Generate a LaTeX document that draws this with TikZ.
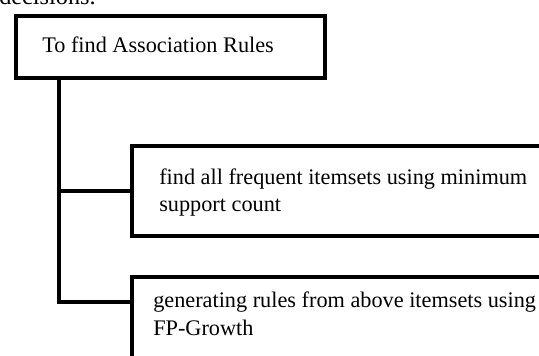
\documentclass[tikz,border=0pt]{standalone}
\usepackage{fontspec}
\setmainfont{Liberation Serif}
\usetikzlibrary{calc}
\begin{document}
\begin{tikzpicture}[x=0.75pt,y=-0.75pt,
  box/.style={draw=black, line width=3pt, fill=white, inner sep=0pt,
    anchor=north west, line join=miter},
  conn/.style={draw=black, line width=3.3pt, line join=miter},
  lbl/.style={inner sep=0pt, anchor=base west, font=\fontsize{16.7}{20}\selectfont, text=black}]
\useasboundingbox (0,0) rectangle (539,356);
\clip (0,0) rectangle (539,356);
\fill[white] (0,0) rectangle (539,356);

% tail of the preceding paragraph
\node[inner sep=0pt, anchor=base west, font=\fontsize{18.2}{22}\selectfont] (prev) at (-1,5) {decisions.};

% heading box
\node[box, minimum width=309*0.75pt, minimum height=62*0.75pt] (top) at (14,14) {};
\node[lbl] (toptext) at (42,53) {To find Association Rules};

% the two steps
\node[box, minimum width=430*0.75pt, minimum height=90*0.75pt] (b1) at (129.5,144) {};
\node[lbl] (b1a) at (159,185) {find all frequent itemsets using minimum};
\node[lbl] (b1b) at (159,212) {support count};

\node[box, minimum width=430*0.75pt, minimum height=105*0.75pt] (b2) at (129.5,275) {};
\node[lbl] (b2a) at (153,307) {generating rules from above itemsets using};
\node[lbl] (b2b) at (153,335) {FP-Growth};

% tree connectors
\coordinate (spine) at (59,0);
\draw[conn] (top.south -| spine) |- ($(b2.north west)+(0,27)$);
\draw[conn] (spine |- b1.west) -- (b1.west);
\end{tikzpicture}
\end{document}
